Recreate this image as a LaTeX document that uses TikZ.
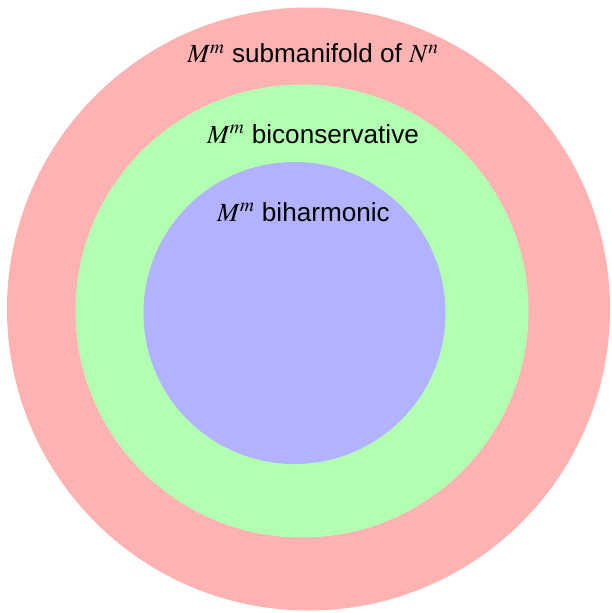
\documentclass[tikz,border=0pt]{standalone}
\usepackage{mathptmx}
\usepackage{fontspec}
\setmainfont{Liberation Sans}
\begin{document}
\begin{tikzpicture}[x=0.75pt,y=-0.75pt,
  disc/.style={circle,inner sep=0pt,outer sep=0pt,draw=none},
  lab/.style={anchor=base,inner sep=0pt,font=\fontsize{19.6}{23}\selectfont}]
  \useasboundingbox (0,0) rectangle (611,613);
  % nested sets, drawn from the outermost inwards
  \node[disc,fill=red!30,minimum size=452.25pt] (sub) at (308.5,309) {};
  \node[disc,fill=green!30,minimum size=339.75pt] (bicons) at (302,311) {};
  \node[disc,fill=blue!30,minimum size=226.5pt] (biharm) at (294.5,313) {};
  % labels
  \node[lab] (tsub) at (313,63) {$M^m$ submanifold of $N^n$};
  \node[lab] (tbicons) at (313,143) {$M^m$ biconservative};
  \node[lab] (tbiharm) at (303.5,221) {$M^m$ biharmonic};
\end{tikzpicture}
\end{document}
